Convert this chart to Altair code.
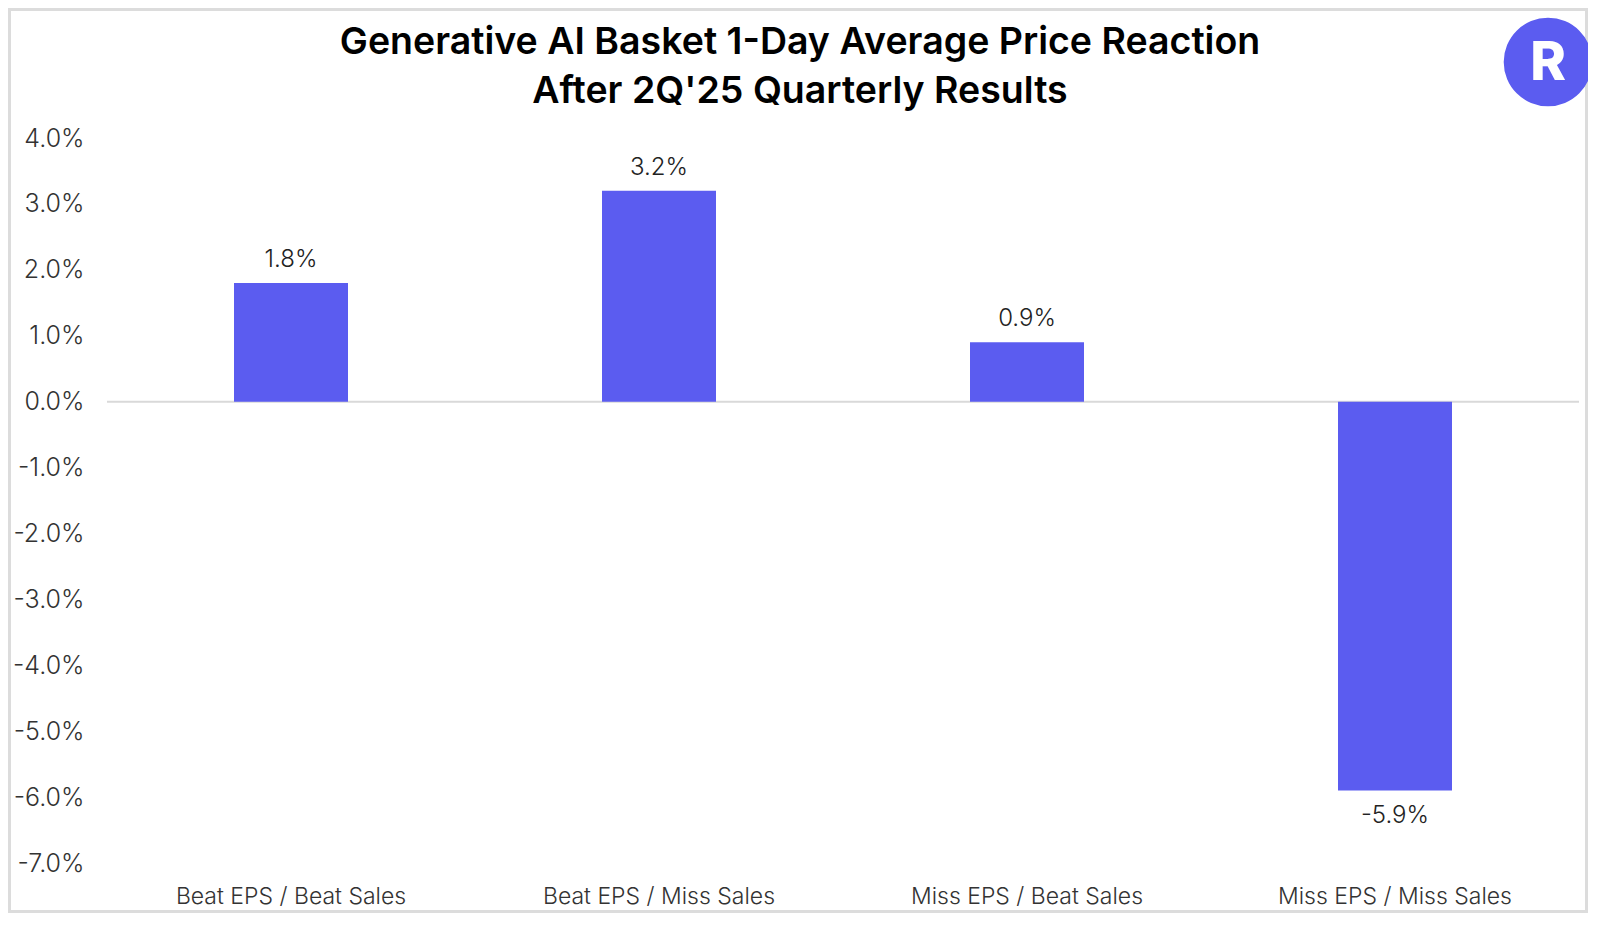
import altair as alt
import pandas as pd

# ---- data ----
categories = ["Beat EPS / Beat Sales", "Beat EPS / Miss Sales",
              "Miss EPS / Beat Sales", "Miss EPS / Miss Sales"]
values = [1.8, 3.2, 0.9, -5.9]
value_labels = ["1.8%", "3.2%", "0.9%", "-5.9%"]
y_ticks = [4, 3, 2, 1, 0, -1, -2, -3, -4, -5, -6, -7]
title_lines = ["Generative AI Basket 1-Day Average Price Reaction",
               "After 2Q'25 Quarterly Results"]

df = pd.DataFrame({"category": categories, "value": values, "label": value_labels})
one = alt.Data(values=[{"k": 1}])

BAR = "#5B5CF0"
FONT = "Inter"
W, H = 1472, 725
PAD = {"left": 99, "top": 130, "right": 9, "bottom": 50}

x_enc = alt.X("category:N", sort=categories, title=None,
              scale=alt.Scale(paddingInner=0, paddingOuter=0),
              axis=alt.Axis(labelAngle=0, labelFontSize=23, labelPadding=22, labelLimit=0,
                            labelColor="#333333", labelFont=FONT, labelFontWeight=300))
y_enc = alt.Y("value:Q", title=None,
              scale=alt.Scale(domain=[-7, 4], nice=False, zero=False),
              axis=alt.Axis(values=y_ticks,
                            labelExpr="replace(format(datum.value, '.1f'), '\u2212', '-') + '%'",
                            labelFontSize=25, labelPadding=23, labelColor="#333333",
                            labelFont=FONT, labelFontWeight=300))

border = alt.Chart(one).mark_rect(filled=False, stroke="#dcdcdc", strokeWidth=3).encode(
    x=alt.value(-PAD["left"] + 1.5), x2=alt.value(W + PAD["right"] - 1.5),
    y=alt.value(-PAD["top"] + 1.5), y2=alt.value(H + PAD["bottom"] - 1.5))

zero = alt.Chart(one).mark_rule(color="#d9d9d9", strokeWidth=2).encode(y=alt.datum(0))

bars = alt.Chart(df).mark_bar(color=BAR, size=114).encode(x=x_enc, y=y_enc)

txt_pos = alt.Chart(df).transform_filter("datum.value >= 0").mark_text(
    fontSize=24, font=FONT, fontWeight=300, color="#222222", baseline="middle", dy=-23
).encode(x=alt.X("category:N", sort=categories), y="value:Q", text="label:N")

txt_neg = alt.Chart(df).transform_filter("datum.value < 0").mark_text(
    fontSize=24, font=FONT, fontWeight=300, color="#222222", baseline="middle", dy=25
).encode(x=alt.X("category:N", sort=categories), y="value:Q", text="label:N")

title1 = alt.Chart(one).mark_text(text=title_lines[0], fontSize=37.5, font=FONT, fontWeight=600,
                                  color="#000000", baseline="middle", align="center").encode(
    x=alt.value(693), y=alt.value(-95))
title2 = alt.Chart(one).mark_text(text=title_lines[1], fontSize=37.5, font=FONT, fontWeight=600,
                                  color="#000000", baseline="middle", align="center").encode(
    x=alt.value(693), y=alt.value(-46))

logo = alt.Chart(one).mark_point(filled=True, shape="circle", size=7850, color=BAR, opacity=1).encode(
    x=alt.value(1441), y=alt.value(-76))
logo_txt = alt.Chart(one).mark_text(text="R", fontSize=54, font=FONT, fontWeight=800,
                                    color="white", baseline="middle").encode(
    x=alt.value(1441), y=alt.value(-74))

chart = alt.layer(border, zero, bars, txt_pos, txt_neg, title1, title2, logo, logo_txt).properties(
    width=W, height=H,
    padding=PAD,
    autosize=alt.AutoSizeParams(type="none"),
).configure_axis(grid=False, domain=False, ticks=False).configure_view(stroke=None)

chart.save("out.html", embed_options={"renderer": "svg", "actions": False})
